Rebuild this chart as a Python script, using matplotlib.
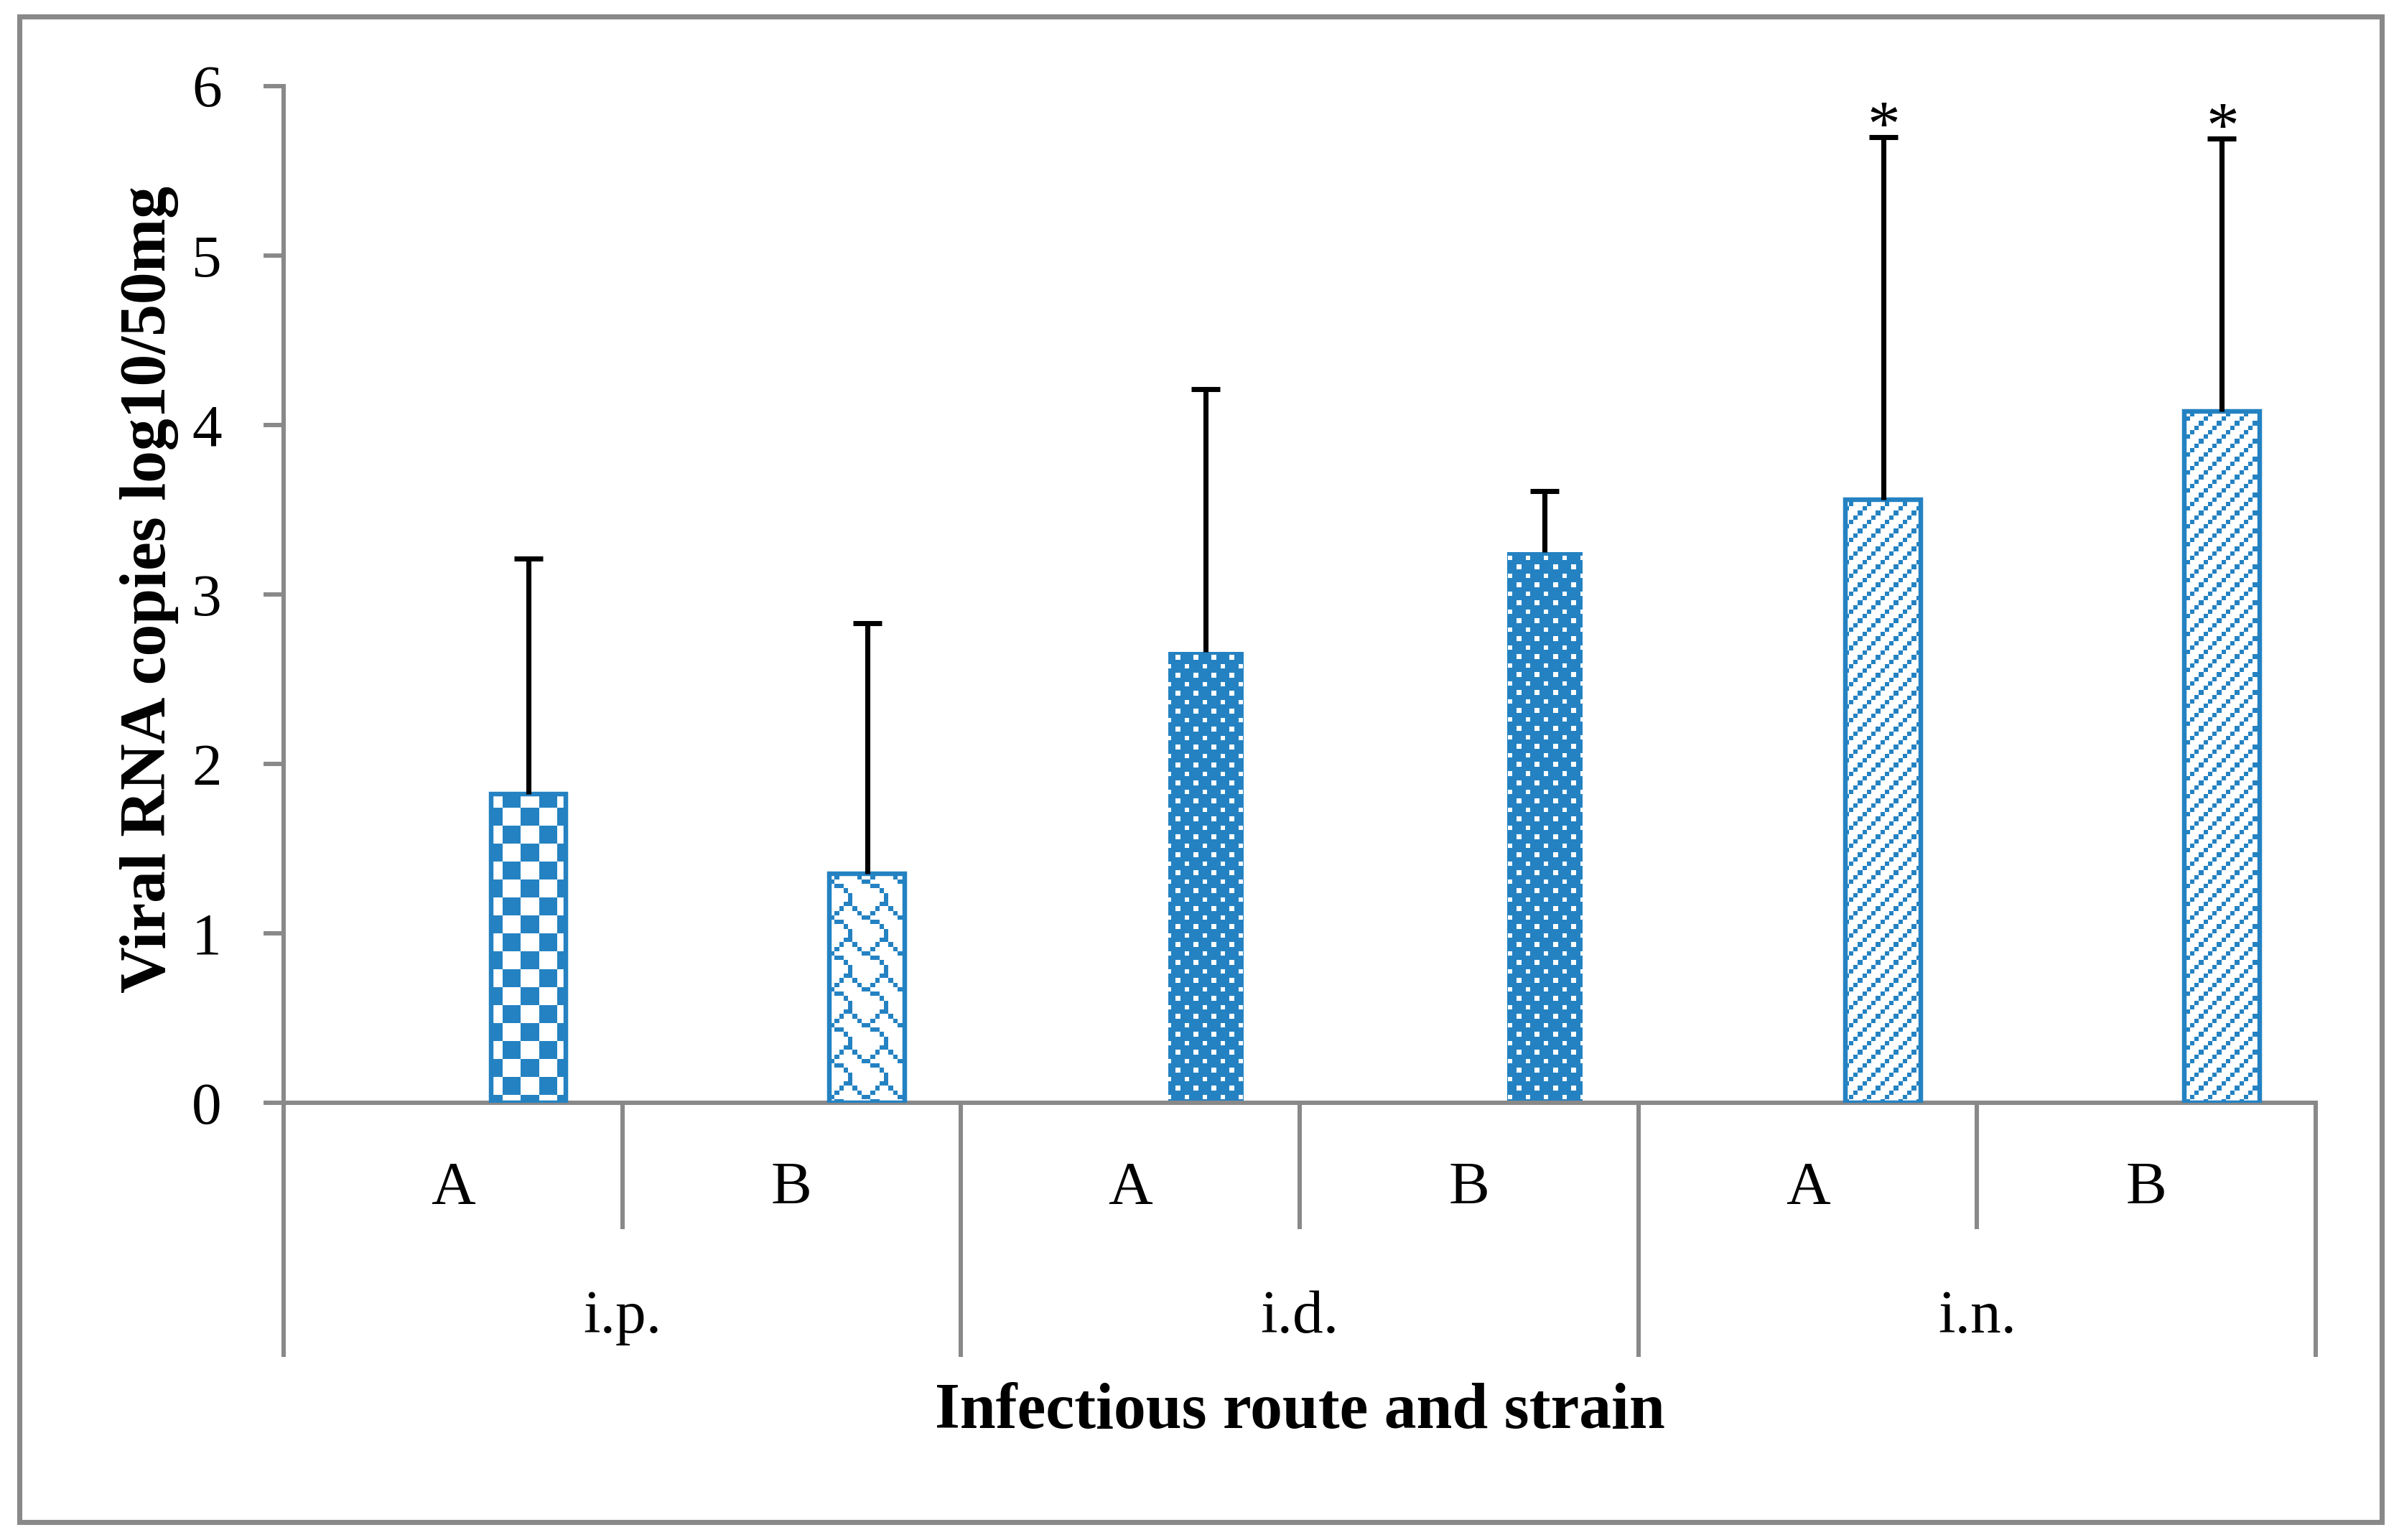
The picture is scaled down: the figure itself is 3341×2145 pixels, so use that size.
import numpy as np
import matplotlib
matplotlib.use("Agg")
import matplotlib.pyplot as plt
from matplotlib.patches import Rectangle
from matplotlib.transforms import blended_transform_factory

# ---------------- data ----------------
routes = ["i.p.", "i.d.", "i.n."]
strains = ["A", "B", "A", "B", "A", "B"]
means = [1.82, 1.35, 2.66, 3.25, 3.56, 4.08]
errors = [1.39, 1.48, 1.55, 0.36, 2.14, 1.61]
significant = [False, False, False, False, True, True]
y_ticks = [0, 1, 2, 3, 4, 5, 6]
x_label = "Infectious route and strain"
y_label = "Viral RNA copies log10/50mg"

# ---------------- style ----------------
W, H, DPI = 3341, 2145, 150
BLUE = "#2482C2"
GRAY = "#898989"
FONT = "Liberation Serif"
plt.rcParams["font.family"] = [FONT, "DejaVu Serif"]

patterns = ["checker", "wave", "dots", "dots", "diag", "diag"]
edged = [True, True, False, False, True, True]


def tile_from_rows(rows):
    return np.array([[c == "1" for c in r] for r in rows], dtype=bool)


r_, c_ = np.mgrid[0:8, 0:8]
TILES = {
    "checker": ((r_ // 4 + c_ // 4) % 2 == 0),
    "wave": tile_from_rows([
        "00000100",
        "00001100",
        "00010010",
        "00100001",
        "11000000",
        "00110000",
        "00001000",
        "00000100",
    ]),
    "dots": ~(((r_ % 4 == 0) & (c_ % 4 == 0)) | ((r_ % 4 == 2) & (c_ % 4 == 2))),
    "diag": ((r_ + c_) % 4 == 0),
}
BIT = 6.25  # pixels per pattern bit

fig = plt.figure(figsize=(W / DPI, H / DPI), dpi=DPI)
ax_left, ax_right = 395 / W, 3225 / W
ax_bottom, ax_top = (H - 1536) / H, (H - 119.7) / H
ax = fig.add_axes([ax_left, ax_bottom, ax_right - ax_left, ax_top - ax_bottom])

n = len(means)
cats = np.arange(n)
xpos = cats + 0.223
bar_w = 0.222

ax.set_xlim(-0.5, n - 0.5)
ax.set_ylim(0, 6)

bars = ax.bar(xpos, means, width=bar_w, facecolor="none",
              edgecolor=BLUE, linewidth=3.1, zorder=3)
for b, e in zip(bars, edged):
    if not e:
        b.set_linewidth(0)


def apply_pattern(patch, tile, fg, bg="white"):
    bb = patch.get_window_extent()
    px0, py0 = int(np.floor(bb.x0)) - 2, int(np.floor(bb.y0)) - 2
    px1, py1 = int(np.ceil(bb.x1)) + 2, int(np.ceil(bb.y1)) + 2
    w, h = px1 - px0, py1 - py0
    xs = px0 + np.arange(w) + 0.5
    ys = py1 - np.arange(h) - 0.5  # top row first
    bc = (np.floor(xs / BIT).astype(int)) % 8
    br = (np.floor((H - ys) / BIT).astype(int)) % 8
    mask = tile[br[:, None], bc[None, :]]
    fgc = np.array(matplotlib.colors.to_rgb(fg))
    bgc = np.array(matplotlib.colors.to_rgb(bg))
    img = np.where(mask[..., None], fgc, bgc)
    inv = ax.transData.inverted()
    (dx0, dy0), (dx1, dy1) = inv.transform([(px0, py0), (px1, py1)])
    im = ax.imshow(img, extent=[dx0, dx1, dy0, dy1], origin="upper",
                   interpolation="nearest", aspect="auto", zorder=2)
    im.set_clip_path(patch)


for b, p in zip(bars, patterns):
    apply_pattern(b, TILES[p], BLUE)

ax.set_xlim(-0.5, n - 0.5)
ax.set_ylim(0, 6)

# error bars (upper only)
eb = ax.errorbar(xpos, means, yerr=[np.zeros(n), errors], fmt="none",
                 ecolor="black", elinewidth=3.4, capsize=9.8, capthick=3.4,
                 zorder=4)
eb[1][0].set_visible(False)

# significance stars
for x, m, e, s in zip(xpos, means, errors, significant):
    if s:
        ax.annotate("*", xy=(x, m + e), xytext=(0.5, -6), textcoords="offset points",
                    ha="center", va="baseline", fontsize=44, color="black",
                    annotation_clip=False)

# axes styling
for sp in ["top", "right"]:
    ax.spines[sp].set_visible(False)
for sp in ["left", "bottom"]:
    ax.spines[sp].set_color(GRAY)
    ax.spines[sp].set_linewidth(2.9)

ax.set_yticks(y_ticks)
ax.set_yticklabels([str(t) for t in y_ticks])
ax.tick_params(axis="y", direction="out", length=13.4, width=2.9, color=GRAY,
               labelsize=40, pad=28, labelcolor="black")

ax.set_xticks(np.arange(-0.5, n, 2.0))
ax.set_xticks(np.arange(0.5, n, 2.0), minor=True)
ax.set_xticklabels([])
ax.tick_params(axis="x", which="major", direction="out", length=170, width=2.9,
               color=GRAY)
ax.tick_params(axis="x", which="minor", direction="out", length=84.5, width=2.9,
               color=GRAY)

trans = blended_transform_factory(ax.transData, ax.transAxes)
for c, s in zip(cats, strains):
    ax.text(c, -0.0853, s, transform=trans, ha="center", va="center",
            fontsize=41, color="black")
for g, r in enumerate(routes):
    ax.text(2 * g + 0.5, -0.2117, r, transform=trans, ha="center", va="center",
            fontsize=41, color="black")

ax.text(0.5, -0.304, x_label, transform=ax.transAxes, ha="center", va="center",
        fontsize=43, fontweight="bold", color="black")
ax.text(-0.066, 0.505, y_label, transform=ax.transAxes, ha="center", va="center",
        rotation=90, fontsize=43, fontweight="bold", color="black")

# figure border
x0, x1 = 27 / W, 3317 / W
y0, y1 = (H - 2120) / H, (H - 23) / H
fig.patches.append(Rectangle((x0, y0), x1 - x0, y1 - y0, transform=fig.transFigure,
                             fill=False, edgecolor=GRAY, linewidth=3.4))

fig.savefig("out.png", dpi=DPI, facecolor="white")
